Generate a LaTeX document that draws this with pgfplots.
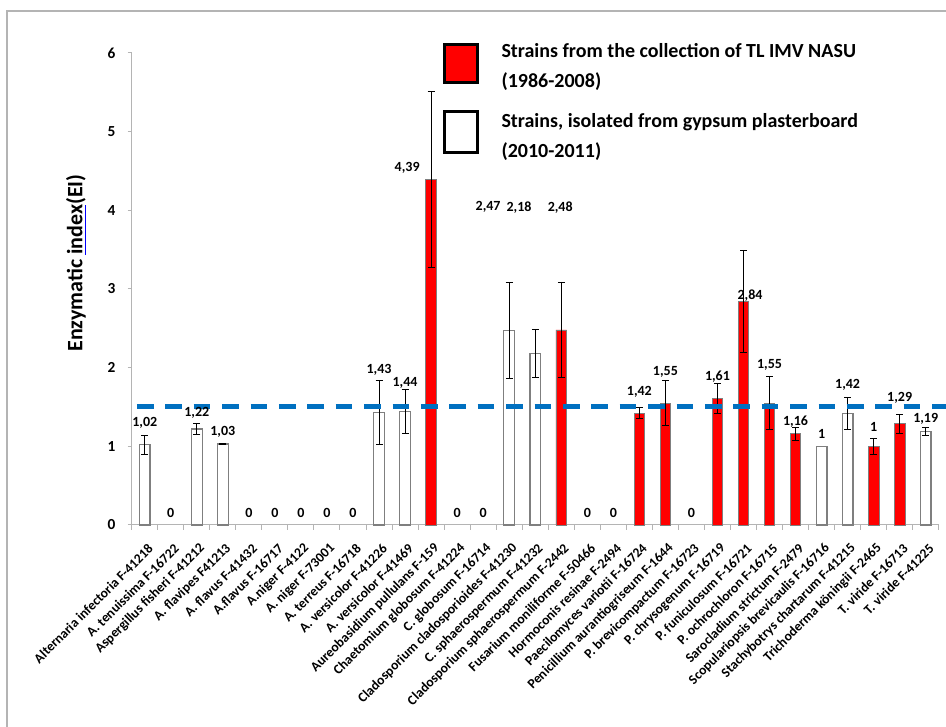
\documentclass[border=0pt]{standalone}
\usepackage{fontspec}
\setmainfont{Carlito}
\usepackage{pgfplots}
\pgfplotsset{compat=1.18}
\definecolor{exred}{HTML}{FF0000}
\definecolor{exblue}{HTML}{0070C0}
\definecolor{axgray}{HTML}{B4B4B4}
\definecolor{bargray}{HTML}{7F7F7F}
\newcommand\spellul[1]{\setbox0\hbox{#1}\rlap{\color{blue}\rule[-2.4pt]{\wd0}{0.8pt}}\box0}
\begin{document}
\begin{tikzpicture}
\path[use as bounding box] (0,0) rectangle (709.5pt,545.25pt);
\draw[axgray, line width=0.9pt] (5.25pt,0pt) -- (5.25pt,537pt) -- (709.5pt,537pt);
\begin{axis}[
  at={(98.8pt,151.5pt)}, anchor=south west,
  scale only axis, width=605.25pt, height=354pt,
  xmin=-0.5, xmax=30.5, ymin=0, ymax=6,
  clip=false,
  axis lines*=left,
  axis line style={axgray, line width=0.75pt},
  tick align=outside,
  tick style={axgray, line width=0.75pt},
  major tick length=3pt,
  minor tick length=3.5pt,
  major x tick style=transparent,
  xtick={0,...,30},
  minor xtick={-0.5,0.5,...,30.5},
  xticklabels={Alternaria infectoria F-41218, A. tenuissima F-16722, Aspergillus fisheri F-41212, A. flavipes F41213, A. flavus F-41432, A.flavus F-16717, A.niger F-4122, A. niger F-73001, A. terreus F-16718, A. versicolor F-41226, A. versicolor F-41469, Aureobasidium pullulans F-159, Chaetomium globosum F-41224, C. globosum F-16714, Cladosporium cladosporioides F-41230, C. sphaerospermum F-41232, Cladosporium sphaerospermum F-2442, Fusarium moniliforme F-50466, Hormoconis resinae F-2494, Paecilomyces variotii F-16724, Penicillium aurantiogriseum F-1644, P. brevicompactum F-16723, P. chrysogenum F-16719, P. funiculosum F-16721, P. ochrochloron F-16715, Sarocladium strictum F-2479, Scopulariopsis brevicaulis F-16716, Stachybotrys chartarum F-41215, Trichoderma köningii F-2465, T. viride F-16713, T. viride F-41225},
  xticklabel style={xshift=4.4pt, yshift=-13pt, rotate=45, anchor=east, inner sep=0pt, font=\fontsize{10.2}{12}\selectfont\bfseries},
  ytick={0,1,2,3,4,5,6},
  yticklabel style={font=\fontsize{11.5}{13}\selectfont\bfseries, inner sep=0pt, xshift=-9pt},
  /pgf/number format/assume math mode=true,
  ylabel={Enzymatic \spellul{index}(EI)},
  ylabel style={at={(axis description cs:-0.069,0.555)}, anchor=center, font=\fontsize{16.5}{18}\selectfont\bfseries},
  legend style={at={(axis description cs:0.385,1.041)}, anchor=north west, draw=none, fill=none,
    font=\fontsize{15}{22.5}\selectfont\bfseries, inner sep=0pt, row sep=14.5pt, column sep=0pt,
    cells={anchor=west}},
  legend cell align=left,
]
% white bars
\addplot[ybar, bar width=8pt, bar shift=0pt, fill=white, draw=bargray, line width=0.9pt, forget plot,
  error bars/.cd, y dir=both, y explicit,
  error bar style={black, line width=0.6pt},
  error mark options={rotate=90, black, line width=0.6pt, mark size=2.6pt}]
  table[x=x, y=y, y error=e] {
x y e
0 1.02 0.12
2 1.22 0.07
3 1.03 0.01
9 1.43 0.41
10 1.44 0.28
14 2.47 0.61
15 2.18 0.31
27 1.42 0.20
30 1.19 0.045
};
\addplot[ybar, bar width=8pt, bar shift=0pt, fill=white, draw=bargray, line width=0.9pt, forget plot]
  table[x=x, y=y] {
x y
26 1.00
};
% red bars
\addplot[ybar, bar width=8pt, bar shift=0pt, fill=exred, draw=bargray, line width=0.6pt, forget plot,
  error bars/.cd, y dir=both, y explicit,
  error bar style={black, line width=0.6pt},
  error mark options={rotate=90, black, line width=0.6pt, mark size=2.6pt}]
  table[x=x, y=y, y error=e] {
x y e
11 4.39 1.12
16 2.48 0.61
19 1.42 0.07
20 1.55 0.29
22 1.61 0.19
23 2.84 0.65
24 1.55 0.34
25 1.16 0.085
28 1.00 0.10
29 1.29 0.12
};
% threshold line
\addplot[exblue, line width=3.5pt, dash pattern=on 12.5pt off 8.8pt, forget plot]
  coordinates {(-0.3,1.51) (30.78,1.51)};
% value labels
\addplot[draw=none, mark=none, forget plot, nodes near coords, point meta=explicit symbolic,
  every node near coord/.style={font=\fontsize{10.5}{12}\selectfont\bfseries, anchor=center, inner sep=0pt}]
  table[x=x, y=y, meta=lab] {
x y lab
0 1.30 1,02
1 0.15 0
2 1.42 1,22
3 1.18 1,03
4 0.15 0
5 0.15 0
6 0.15 0
7 0.15 0
8 0.15 0
9 1.97 1,43
10 1.80 1,44
10.08 4.54 4,39
12 0.15 0
13 0.15 0
13.19 4.04 2,47
14.38 4.04 2,18
15.96 4.04 2,48
17 0.15 0
18 0.15 0
19 1.69 1,42
20 1.94 1,55
21 0.15 0
22 1.89 1,61
23.25 2.92 2,84
24 2.03 1,55
25 1.31 1,16
26 1.16 1
27 1.78 1,42
28 1.25 1
29 1.61 1,29
30 1.35 1,19
};
\addlegendimage{legend image code/.code={\draw[fill=exred, draw=black, line width=2.25pt] (0pt,-21pt) rectangle (24.75pt,7.5pt); \path[draw=none,fill=none] (0pt,0pt) -- (41pt,0pt);}}
\addlegendentry{\begin{tabular}{@{}l@{}}Strains from the collection of TL IMV NASU\\(1986-2008)\end{tabular}}
\addlegendimage{legend image code/.code={\draw[fill=white, draw=black, line width=2.25pt] (0pt,-20.5pt) rectangle (24.75pt,10pt); \path[draw=none,fill=none] (0pt,0pt) -- (41pt,0pt);}}
\addlegendentry{\begin{tabular}{@{}l@{}}Strains, isolated from gypsum plasterboard\\(2010-2011)\end{tabular}}
\end{axis}
\end{tikzpicture}
\end{document}
